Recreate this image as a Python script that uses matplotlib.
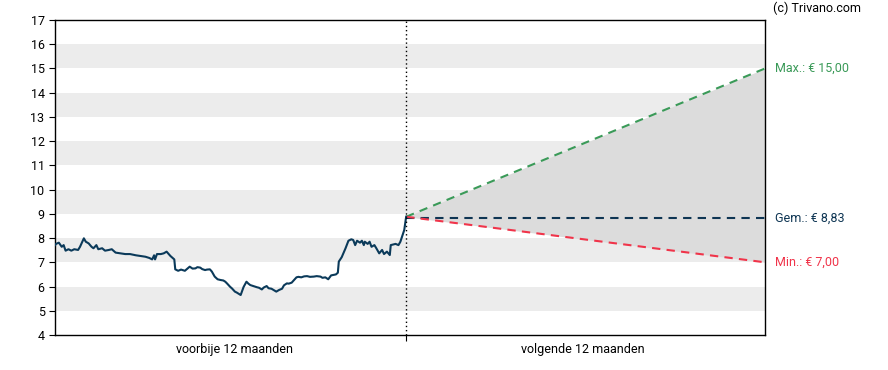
import matplotlib.pyplot as plt
import numpy as np

plt.rcParams['font.family'] = ['Roboto', 'DejaVu Sans']

# past 12 months (day, koers)
past_days = [0, 1, 4, 7, 9, 11, 14, 17, 20, 24, 26, 30, 32, 35, 38, 40, 43, 45, 49, 52,
             56, 59, 63, 68, 73, 78, 84, 89, 94, 98, 101, 103, 104, 106, 110, 113, 116,
             120, 124, 125, 128, 131, 135, 140, 143, 146, 148, 151, 153, 156, 158, 161,
             163, 166, 169, 172, 175, 177, 179, 182, 184, 187, 189, 191, 193, 196, 199,
             201, 203, 206, 210, 212, 215, 217, 220, 222, 225, 228, 230, 233, 236, 238,
             241, 243, 246, 248, 251, 253, 256, 259, 262, 265, 269, 272, 276, 278, 281,
             284, 287, 292, 294, 295, 298, 302, 305, 308, 310, 312, 314, 317, 319, 321,
             322, 325, 327, 329, 332, 334, 337, 340, 342, 345, 348, 349, 354, 357, 359,
             362, 363, 365]
past_price = [7.71, 7.76, 7.81, 7.64, 7.71, 7.48, 7.54, 7.48, 7.54, 7.51, 7.64, 7.99, 7.85,
              7.78, 7.64, 7.58, 7.71, 7.54, 7.58, 7.48, 7.51, 7.54, 7.40, 7.37, 7.34, 7.34,
              7.29, 7.26, 7.23, 7.18, 7.12, 7.29, 7.12, 7.34, 7.34, 7.37, 7.44, 7.26, 7.12,
              6.71, 6.65, 6.70, 6.65, 6.82, 6.74, 6.75, 6.80, 6.78, 6.72, 6.68, 6.70, 6.71,
              6.62, 6.41, 6.30, 6.27, 6.25, 6.20, 6.12, 5.99, 5.92, 5.79, 5.75, 5.70, 5.65,
              5.98, 6.20, 6.12, 6.06, 6.02, 5.97, 5.95, 5.88, 5.96, 6.02, 5.93, 5.91, 5.84,
              5.79, 5.86, 5.91, 6.05, 6.13, 6.12, 6.16, 6.25, 6.38, 6.40, 6.38, 6.42, 6.43,
              6.40, 6.41, 6.43, 6.41, 6.36, 6.38, 6.30, 6.46, 6.50, 6.57, 7.03, 7.21, 7.58,
              7.89, 7.95, 7.92, 7.71, 7.89, 7.81, 7.89, 7.71, 7.85, 7.76, 7.85, 7.64, 7.71,
              7.58, 7.37, 7.51, 7.34, 7.44, 7.30, 7.71, 7.76, 7.71, 7.85, 8.20, 8.33, 8.88]

# next 12 months: koersdoelen
future_days = [365, 738]
start_price = 8.88
max_target = 15.00
avg_target = 8.83
min_target = 7.00

fig = plt.figure(figsize=(8.88, 3.70), dpi=100)
ax = fig.add_axes([55/888, 35/370, 710/888, 315/370])

for lo in range(5, 17, 2):
    ax.axhspan(lo, lo + 1, color='#ececec', lw=0, zorder=0)

ax.fill_between(future_days, [start_price, max_target], [start_price, min_target],
                color='#dcdcdc', lw=0, zorder=1)
ax.plot(future_days, [start_price, max_target], '--', color='#3a9a58', lw=1.5, dashes=(4, 3), zorder=3)
ax.plot(future_days, [avg_target, avg_target], '--', color='#0e3553', lw=1.5, dashes=(4, 3), zorder=3)
ax.plot(future_days, [start_price, min_target], '--', color='#f0344a', lw=1.5, dashes=(4, 3), zorder=3)

ax.plot(past_days, past_price, color='#0b3a5a', lw=1.5, zorder=4)
ax.axvline(365, color='black', lw=1, ls=(0, (1, 2)), zorder=5)

ax.set_xlim(0, 738)
ax.set_ylim(4, 17)
ax.set_yticks(range(4, 18))
ax.set_xticks([365])
ax.set_xticklabels([])
ax.tick_params(axis='both', direction='out', length=4, labelsize=9, colors='black')
for s in ax.spines.values():
    s.set_linewidth(1)

ax.text(187, -0.025, 'voorbije 12 maanden', transform=ax.get_xaxis_transform(),
        ha='center', va='top', fontsize=9)
ax.text(549, -0.025, 'volgende 12 maanden', transform=ax.get_xaxis_transform(),
        ha='center', va='top', fontsize=9)

ax.text(748, max_target, 'Max.: € 15,00', color='#3a9a58', fontsize=9, va='center', clip_on=False)
ax.text(748, avg_target, 'Gem.: € 8,83', color='#0e3553', fontsize=9, va='center', clip_on=False)
ax.text(748, min_target, 'Min.: € 7,00', color='#f0344a', fontsize=9, va='center', clip_on=False)
fig.text(773/888, 1 - 8/370, '(c) Trivano.com', fontsize=9, va='center', ha='left')

plt.savefig('out.png', dpi=100)
